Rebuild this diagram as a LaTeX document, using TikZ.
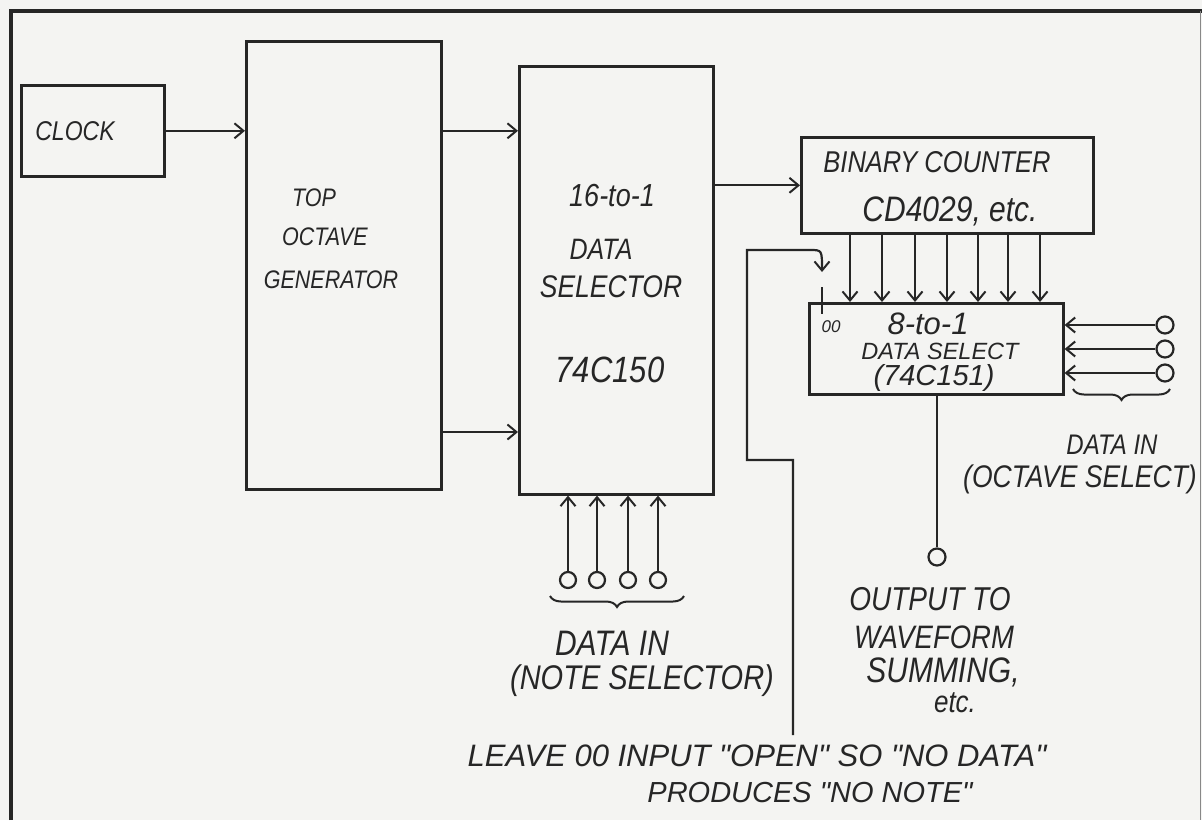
\documentclass[tikz,border=0pt]{standalone}
\usepackage{fontspec}
\setmainfont{Liberation Sans}[Ligatures=TeXOff]
\usetikzlibrary{arrows.meta,decorations.pathreplacing,calc}
\definecolor{ink}{HTML}{262626}
\definecolor{paper}{HTML}{F4F4F2}
\newcommand{\fsz}[1]{\fontsize{#1}{#1}\selectfont\itshape}
\newcommand{\tl}[1]{\scalebox{1}[1.18]{#1}}

\begin{document}
\begin{tikzpicture}[x=1pt,y=-1pt,
  box/.style={draw=ink, line width=2.6pt, inner sep=0, anchor=north west},
  wire/.style={draw=ink, line width=2.2pt},
  arr/.style={wire, -{Straight Barb[length=9pt,width=15pt,line width=2pt]}},
  pin/.style={circle, draw=ink, line width=2.2pt, minimum size=16pt, inner sep=0},
  lbl/.style={text=ink, inner sep=0, anchor=center},
  brc/.style={draw=ink, line width=2pt, decorate, decoration={brace, amplitude=11pt}},
]
\fill[paper] (0,0) rectangle (1202,820);
\useasboundingbox (0,0) rectangle (1202,820);
\draw[ink, line width=3.6pt] (11,820) -- (11,11) -- (1202,11);
\draw[ink!55, line width=1pt] (1200,11) -- (1200,820);

% boxes
\node[box, minimum width=143pt, minimum height=91pt] (clock) at (20,84) {};
\node[box, minimum width=195pt, minimum height=448pt] (topoct) at (245,40) {};
\node[box, minimum width=194pt, minimum height=428pt] (dsel) at (518,65) {};
\node[box, minimum width=292pt, minimum height=96pt] (bincnt) at (800,136) {};
\node[box, minimum width=254pt, minimum height=91pt] (dsel8) at (808,302) {};

% pins
\node[pin] (n1) at (568,580) {};
\node[pin] (n2) at (597,580) {};
\node[pin] (n3) at (628,580) {};
\node[pin] (n4) at (658,580) {};
\node[pin, minimum size=17pt] (o1) at (1165,325) {};
\node[pin, minimum size=17pt] (o2) at (1165,349) {};
\node[pin, minimum size=17pt] (o3) at (1165,373) {};
\node[pin, minimum size=17pt] (out) at (937,557) {};

% connectors
\coordinate (lowrow) at (0,432);
\draw[arr] (clock.east) -- (clock.east -| topoct.west);
\draw[arr] (topoct.east |- clock.east) -- (dsel.west |- clock.east);
\draw[arr] (topoct.east |- lowrow) -- (dsel.west |- lowrow);
\draw[arr] (dsel.east |- bincnt.west) -- (bincnt.west);
\foreach \x [count=\i] in {850,882,915,947,978,1008,1040}{
  \coordinate (c\i) at (\x,0);
  \draw[arr] (bincnt.south -| c\i) -- (dsel8.north -| c\i);
}
\foreach \p in {o1,o2,o3}{
  \draw[arr] (\p.west) -- (\p.west -| dsel8.east);
}
\foreach \p in {n1,n2,n3,n4}{
  \draw[arr] (\p.north) -- (\p.north |- dsel.south);
}
\draw[wire] (dsel8.south -| out) -- (out.north);

% braces
\draw[brc] (1170,389) -- (1073,389);
\draw[brc] (684,596) -- (550,596);

% "00" input line
\coordinate (z0) at (793,735);
\coordinate (z1) at (747,460);
\coordinate (z2) at (822,250);
\draw[arr] (z0) -- (z0 |- z1) -- (z1) -- (z1 |- z2) -- ($(z2)+(-12,0)$) .. controls (z2) .. ($(z2)+(0,22)$);
\draw[wire] (822,287) -- (822,314);

% labels
\node[lbl, font=\fsz{23}] (tclock) at (75,131) {\tl{CLOCK}};
\node[lbl, font=\fsz{21.5}] (ttop) at (314,198) {\tl{TOP}};
\node[lbl, font=\fsz{21.5}] (toct) at (325,237) {\tl{OCTAVE}};
\node[lbl, font=\fsz{21.5}] (tgen) at (331,280) {\tl{GENERATOR}};

\node[lbl, font=\fsz{27}] (t16) at (612,196) {\tl{16-to-1}};
\node[lbl, font=\fsz{25}] (tdata) at (601,249) {\tl{DATA}};
\node[lbl, font=\fsz{26.5}] (tselr) at (611,287) {\tl{SELECTOR}};
\node[lbl, font=\fsz{31}] (t150) at (610,370) {\tl{74C150}};

\node[lbl, font=\fsz{25.5}] (tbin) at (937,162) {\tl{BINARY COUNTER}};
\node[lbl, font=\fsz{30}] (tcd) at (950,211) {\tl{CD4029, etc.}};

\node[lbl, font=\fsz{31}] (t8) at (928,324) {8-to-1};
\node[lbl, font=\fsz{23.5}] (tds) at (940,351) {DATA SELECT};
\node[lbl, font=\fsz{29}] (t151) at (934,378) {(74C151)};
\node[lbl, font=\fsz{17}] (t00) at (831,327) {00};

\node[lbl, font=\fsz{24}] (toin) at (1112,445) {\tl{DATA IN}};
\node[lbl, font=\fsz{26.5}] (tosel) at (1080,479) {\tl{(OCTAVE SELECT)}};

\node[lbl, font=\fsz{28}] (tout) at (930,599) {\tl{OUTPUT TO}};
\node[lbl, font=\fsz{27.5}] (twave) at (934,637) {\tl{WAVEFORM}};
\node[lbl, font=\fsz{30}] (tsum) at (943,672) {\tl{SUMMING,}};
\node[lbl, font=\fsz{26}] (tetc) at (955,703) {\tl{etc.}};

\node[lbl, font=\fsz{30}] (tnin) at (612,643) {\tl{DATA IN}};
\node[lbl, font=\fsz{29}] (tnsel) at (642,681) {\tl{(NOTE SELECTOR)}};

\node[lbl, font=\fsz{31}] (leave) at (757,756) {LEAVE 00 INPUT "OPEN" SO "NO DATA"};
\node[lbl, font=\fsz{29}] (prod) at (810,793) {PRODUCES "NO NOTE"};
\end{tikzpicture}
\end{document}
